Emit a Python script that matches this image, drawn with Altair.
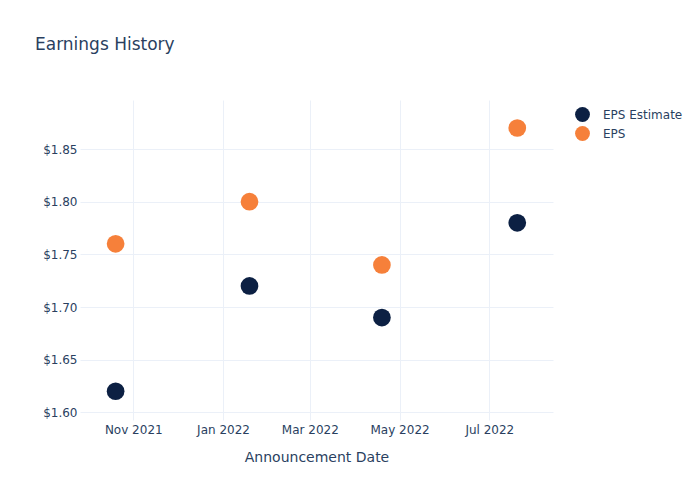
import altair as alt
import pandas as pd

dates = ["2021-10-20T00:00:00", "2022-01-19T00:00:00", "2022-04-19T00:00:00", "2022-07-20T00:00:00"]
eps_estimate = [1.62, 1.72, 1.69, 1.78]
eps_actual = [1.76, 1.80, 1.74, 1.87]
series_names = ["EPS Estimate", "EPS"]
series_colors = ["#0c2043", "#f6803a"]

rows = []
for d, v in zip(dates, eps_estimate):
    rows.append({"date": d, "value": v, "series": "EPS Estimate"})
for d, v in zip(dates, eps_actual):
    rows.append({"date": d, "value": v, "series": "EPS"})
df = pd.DataFrame(rows)

text_color = "#2a3f5f"
grid_color = "#ebf0f8"
font = "DejaVu Sans"

x_ticks = [
    alt.DateTime(year=2021, month=11, date=1),
    alt.DateTime(year=2022, month=1, date=1),
    alt.DateTime(year=2022, month=3, date=1),
    alt.DateTime(year=2022, month=5, date=1),
    alt.DateTime(year=2022, month=7, date=1),
]
y_ticks = [1.60, 1.65, 1.70, 1.75, 1.80, 1.85]

chart = alt.Chart(df).mark_circle(size=314, opacity=1).encode(
    x=alt.X(
        "date:T",
        title="Announcement Date",
        scale=alt.Scale(domain=[
            alt.DateTime(year=2021, month=9, date=25, hours=19),
            alt.DateTime(year=2022, month=8, date=13, hours=7),
        ]),
        axis=alt.Axis(
            values=x_ticks, format="%b %Y", labelFontSize=12, labelColor=text_color,
            titleFontSize=14, titleColor=text_color, titleFontWeight="normal",
            titlePadding=15, labelPadding=4, domain=False, ticks=False,
            gridColor=grid_color, labelFont=font, titleFont=font,
        ),
    ),
    y=alt.Y(
        "value:Q",
        title=None,
        scale=alt.Scale(domain=[1.5927, 1.8966], nice=False, zero=False),
        axis=alt.Axis(
            values=y_ticks, format="$.2f", labelFontSize=12, labelColor=text_color,
            labelPadding=3, domain=False, ticks=False, gridColor=grid_color,
            labelFont=font,
        ),
    ),
    color=alt.Color(
        "series:N",
        scale=alt.Scale(domain=series_names, range=series_colors),
        sort=series_names,
        legend=alt.Legend(
            title=None, orient="none", legendX=495, legendY=7, padding=0,
            symbolType="circle", symbolSize=220, symbolStrokeWidth=0, symbolOpacity=1,
            labelFontSize=12, labelColor=text_color, labelFont=font,
            labelOffset=13, rowPadding=4,
        ),
    ),
    order=alt.Order("series:N", sort="descending"),
).properties(
    width=473,
    height=320,
    padding={"left": 80, "top": 100, "right": 147, "bottom": 80},
    autosize=alt.AutoSizeParams(type="none"),
    title=alt.TitleParams(
        "Earnings History", anchor="start", fontSize=17, color=text_color,
        fontWeight="normal", font=font, offset=46, dx=-45, frame="group",
    ),
).configure(background="white").configure_view(stroke=None, strokeWidth=0)

chart.save("out.html", embed_options={"renderer": "svg", "actions": False})
